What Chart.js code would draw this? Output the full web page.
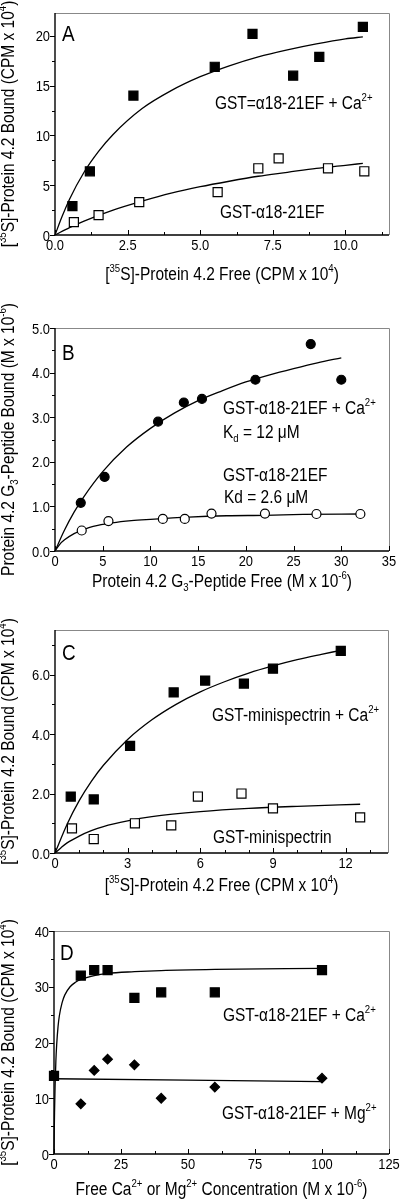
<!DOCTYPE html>
<html>
<head>
<meta charset="utf-8">
<script src="https://cdn.jsdelivr.net/npm/chart.js@4.4.1/dist/chart.umd.min.js"></script>
<style>
  html, body { margin: 0; padding: 0; background: #fff; }
  .panel { width: 400px; height: 300px; }
  canvas { display: block; }
</style>
</head>
<body>
<div class="panel"><canvas id="chartA" width="400" height="300"></canvas></div>
<div class="panel"><canvas id="chartB" width="400" height="300"></canvas></div>
<div class="panel"><canvas id="chartC" width="400" height="300"></canvas></div>
<div class="panel"><canvas id="chartD" width="400" height="300"></canvas></div>
<script>
// panel A - GST-a18-21EF binding of [35S]-protein 4.2
const aCaFree = [0.6, 1.2, 2.7, 5.5, 6.8, 8.2, 9.1, 10.6];
const aCaBound = [2.9, 6.4, 14.0, 16.9, 20.2, 16.0, 17.9, 20.9];
const aFree = [0.65, 1.5, 2.9, 5.6, 7.0, 7.7, 9.4, 10.65];
const aBound = [1.3, 2.0, 3.3, 4.3, 6.7, 7.7, 6.7, 6.4];
const aCaFitX = [0, 0.25, 0.5, 1, 1.5, 2, 3, 4, 5, 6, 7, 8, 9, 10, 10.6];
const aCaFitY = [0, 1.9, 3.6, 6.3, 8.4, 10.1, 12.7, 14.5, 15.9, 17.0, 17.9, 18.6, 19.2, 19.7, 19.9];
const aFitX = [0, 0.5, 1, 2, 3, 4, 5, 6, 7, 8, 9, 10, 10.6];
const aFitY = [0, 0.74, 1.4, 2.5, 3.4, 4.2, 4.85, 5.4, 5.9, 6.3, 6.7, 7.0, 7.2];
const aXTicks = [0, 2.5, 5, 7.5, 10];
const aYTicks = [0, 5, 10, 15, 20];

// panel B - G3 peptide
const bCaFree = [2.7, 5.2, 10.8, 13.5, 15.4, 21.0, 26.8, 30.0];
const bCaBound = [1.08, 1.66, 2.90, 3.33, 3.41, 3.84, 4.64, 3.84];
const bFree = [2.8, 5.6, 11.3, 13.6, 16.4, 22.0, 27.4, 32.0];
const bBound = [0.46, 0.67, 0.72, 0.72, 0.84, 0.84, 0.83, 0.83];
const bCaFitX = [0, 1, 2, 3, 5, 7.5, 10, 12.5, 15, 17.5, 20, 22.5, 25, 27.5, 30];
const bCaFitY = [0, 0.47, 0.87, 1.21, 1.78, 2.33, 2.75, 3.09, 3.37, 3.59, 3.79, 3.95, 4.09, 4.22, 4.33];
const bFitX = [0, 0.5, 1, 2, 3, 4, 6, 8, 10, 14, 18, 22, 26, 32];
const bFitY = [0, 0.15, 0.25, 0.39, 0.48, 0.55, 0.63, 0.68, 0.71, 0.76, 0.79, 0.80, 0.82, 0.83];
const bXTicks = [0, 5, 10, 15, 20, 25, 30, 35];
const bYTicks = [0, 1, 2, 3, 4, 5];

// panel C - minispectrin
const cCaFree = [0.65, 1.6, 3.1, 4.9, 6.2, 7.8, 9.0, 11.8];
const cCaBound = [1.9, 1.8, 3.6, 5.4, 5.8, 5.7, 6.2, 6.8];
const cFree = [0.7, 1.6, 3.3, 4.8, 5.9, 7.7, 9.0, 12.6];
const cBound = [0.83, 0.47, 1.0, 0.93, 1.9, 2.0, 1.5, 1.2];
const cCaFitX = [0, 0.5, 1, 1.5, 2, 3, 4, 5, 6, 7, 8, 9, 10, 11, 11.7];
const cCaFitY = [0, 0.97, 1.76, 2.41, 2.95, 3.82, 4.48, 5.0, 5.42, 5.76, 6.05, 6.29, 6.5, 6.68, 6.8];
const cFitX = [0, 0.25, 0.5, 1, 1.5, 2, 3, 4, 6, 8, 10, 12.6];
const cFitY = [0, 0.18, 0.34, 0.57, 0.75, 0.89, 1.08, 1.22, 1.39, 1.5, 1.57, 1.64];
const cXTicks = [0, 3, 6, 9, 12];
const cYTicks = [0, 2, 4, 6];

// panel D - Ca / Mg titration
const dCaConc = [0, 10, 15, 20, 30, 40, 60, 100];
const dCaBound = [14, 32, 33, 33, 28, 29, 29, 33];
const dMgConc = [10, 15, 20, 30, 40, 60, 100];
const dMgBound = [9, 15, 17, 16, 10, 12, 13.6];
const dCaFitX = [0, 0.1, 0.2, 0.4, 0.7, 1, 1.5, 2, 3, 4, 6, 8, 10, 15, 20, 30, 40, 60, 100];
const dCaFitY = [0, 4.2, 7.4, 12.1, 16.7, 19.6, 22.8, 24.8, 27.1, 28.5, 30.0, 30.8, 31.3, 32.0, 32.4, 32.7, 32.9, 33.1, 33.3];
const dMgFitX = [0, 100];
const dMgFitY = [13.5, 13.0];
const dXTicks = [0, 25, 50, 75, 100, 125];
const dYTicks = [0, 10, 20, 30, 40];

const FONT = '"Liberation Sans", Arial, sans-serif';
const SQUEEZE = 0.86; // the original uses a narrow face

function pts(xs, ys) {
    return xs.map((x, i) => ({ x: x, y: ys[i] }));
}

function markers(xs, ys, style, filled, radius) {
    return {
        data: pts(xs, ys),
        pointStyle: style,
        pointRadius: radius,
        pointBackgroundColor: filled ? '#000' : '#fff',
        pointBorderColor: '#000',
        pointBorderWidth: 1.2,
        showLine: false,
        clip: false
    };
}

function fitLine(xs, ys) {
    return {
        data: pts(xs, ys),
        showLine: true,
        borderColor: '#000',
        borderWidth: 1.3,
        pointRadius: 0,
        cubicInterpolationMode: 'monotone',
        clip: false
    };
}

// narrow text with superscripts / subscripts, y is the baseline
function drawRich(ctx, parts, x, y, size, align) {
    const small = size * 0.62;
    const widths = [];
    let total = 0;
    parts.forEach(([t, k]) => {
        ctx.font = (k ? small : size) + 'px ' + FONT;
        const w = ctx.measureText(t).width * SQUEEZE;
        widths.push(w);
        total += w;
    });
    let cx = x;
    if (align === 'center') cx = x - total / 2;
    if (align === 'right') cx = x - total;
    ctx.textAlign = 'left';
    ctx.textBaseline = 'alphabetic';
    parts.forEach(([t, k], i) => {
        ctx.font = (k ? small : size) + 'px ' + FONT;
        let dy = 0;
        if (k === 'sup') dy = -size * 0.42;
        if (k === 'sub') dy = size * 0.22;
        ctx.save();
        ctx.translate(cx, y + dy);
        ctx.scale(SQUEEZE, 1);
        ctx.fillText(t, 0, 0);
        ctx.restore();
        cx += widths[i];
    });
}

function isMajor(v, step) {
    const r = v / step;
    return Math.abs(r - Math.round(r)) < 1e-6;
}

const framePlugin = {
    id: 'frame',
    afterDraw(chart, args, opts) {
        const ctx = chart.ctx;
        const a = chart.chartArea;
        const xs = chart.scales.x;
        const ys = chart.scales.y;
        ctx.save();

        // box: black axes, grey top and right
        ctx.strokeStyle = '#888';
        ctx.lineWidth = 1;
        ctx.beginPath();
        ctx.moveTo(a.left, a.top + 0.5);
        ctx.lineTo(a.right + 0.5, a.top + 0.5);
        ctx.lineTo(a.right + 0.5, a.bottom);
        ctx.stroke();
        ctx.strokeStyle = '#000';
        ctx.lineWidth = 1.4;
        ctx.beginPath();
        ctx.moveTo(a.left, a.top);
        ctx.lineTo(a.left, a.bottom);
        ctx.lineTo(a.right, a.bottom);
        ctx.stroke();

        // x ticks point inward, y ticks point outward
        ctx.lineWidth = 1;
        const nx = Math.floor((xs.max - xs.min) / opts.xMinor + 1e-6);
        for (let i = 0; i <= nx; i++) {
            const v = xs.min + i * opts.xMinor;
            const px = Math.round(xs.getPixelForValue(v)) + 0.5;
            const len = isMajor(v, opts.xMajor) ? 5 : 3;
            ctx.beginPath();
            ctx.moveTo(px, a.bottom);
            ctx.lineTo(px, a.bottom - len);
            ctx.stroke();
        }
        const ny = Math.floor((ys.max - ys.min) / opts.yMinor + 1e-6);
        for (let i = 0; i <= ny; i++) {
            const v = ys.min + i * opts.yMinor;
            const py = Math.round(ys.getPixelForValue(v)) + 0.5;
            const len = isMajor(v, opts.yMajor) ? 5 : 3;
            ctx.beginPath();
            ctx.moveTo(a.left, py);
            ctx.lineTo(a.left - len, py);
            ctx.stroke();
        }

        ctx.fillStyle = '#000';
        // tick labels
        opts.xTicks.forEach(v => {
            drawRich(ctx, [[v.toFixed(opts.xDec), '']], xs.getPixelForValue(v), a.bottom + 15, 15, 'center');
        });
        opts.yTicks.forEach(v => {
            drawRich(ctx, [[v.toFixed(opts.yDec), '']], a.left - 5, ys.getPixelForValue(v) + 5.5, 15, 'right');
        });

        // axis titles
        drawRich(ctx, opts.xTitle, (a.left + a.right) / 2, opts.xTitleY, 18, 'center');
        ctx.save();
        ctx.translate(opts.yTitleX, (a.top + a.bottom) / 2);
        ctx.rotate(-Math.PI / 2);
        drawRich(ctx, opts.yTitle, 0, 6, 18, 'center');
        ctx.restore();

        // panel letter and series notes
        drawRich(ctx, [[opts.letter, '']], opts.letterX, opts.letterY, 22, 'left');
        opts.notes.forEach(n => drawRich(ctx, n.parts, n.x, n.y, 18, 'left'));
        ctx.restore();
    }
};

function makePanel(id, p) {
    new Chart(document.getElementById(id), {
        type: 'scatter',
        data: { datasets: p.datasets },
        options: {
            responsive: false,
            animation: false,
            events: [],
            layout: { padding: { left: 0, top: p.area.top, right: 400 - p.area.right, bottom: 0 } },
            plugins: {
                legend: { display: false },
                tooltip: { enabled: false },
                frame: p.frame
            },
            scales: {
                x: {
                    type: 'linear',
                    min: p.x.min, max: p.x.max,
                    grid: { display: false, drawTicks: false },
                    border: { display: false },
                    ticks: { display: false },
                    afterFit: s => { s.height = 300 - p.area.bottom; }
                },
                y: {
                    type: 'linear',
                    min: p.y.min, max: p.y.max,
                    grid: { display: false, drawTicks: false },
                    border: { display: false },
                    ticks: { display: false },
                    afterFit: s => { s.width = p.area.left; }
                }
            }
        },
        plugins: [framePlugin]
    });
}

const proteinBound = [['[', ''], ['35', 'sup'], ['S]-Protein 4.2 Bound (CPM x 10', ''], ['4', 'sup'], [')', '']];
const proteinFree = [['[', ''], ['35', 'sup'], ['S]-Protein 4.2 Free (CPM x 10', ''], ['4', 'sup'], [')', '']];

makePanel('chartA', {
    area: { left: 55, right: 389, top: 13, bottom: 235 },
    x: { min: 0, max: 11.5 },
    y: { min: 0, max: 22.3 },
    datasets: [
        markers(aCaFree, aCaBound, 'rect', true, 6.4),
        markers(aFree, aBound, 'rect', false, 6.4),
        fitLine(aCaFitX, aCaFitY),
        fitLine(aFitX, aFitY)
    ],
    frame: {
        xMajor: 2.5, xMinor: 1.25, yMajor: 5, yMinor: 2.5,
        xTicks: aXTicks, xDec: 1, yTicks: aYTicks, yDec: 0,
        xTitle: proteinFree, xTitleY: 280,
        yTitle: proteinBound, yTitleX: 8,
        letter: 'A', letterX: 62, letterY: 41,
        notes: [
            { parts: [['GST=\u03b118-21EF + Ca', ''], ['2+', 'sup']], x: 215, y: 109 },
            { parts: [['GST-\u03b118-21EF', '']], x: 220, y: 218 }
        ]
    }
});

makePanel('chartB', {
    area: { left: 55, right: 389, top: 28, bottom: 251 },
    x: { min: 0, max: 35 },
    y: { min: 0, max: 5 },
    datasets: [
        markers(bCaFree, bCaBound, 'circle', true, 4.5),
        markers(bFree, bBound, 'circle', false, 4.5),
        fitLine(bCaFitX, bCaFitY),
        fitLine(bFitX, bFitY)
    ],
    frame: {
        xMajor: 5, xMinor: 5, yMajor: 1, yMinor: 0.5,
        xTicks: bXTicks, xDec: 0, yTicks: bYTicks, yDec: 1,
        xTitle: [['Protein 4.2 G', ''], ['3', 'sub'], ['-Peptide Free (M x 10', ''], ['-6', 'sup'], [')', '']],
        xTitleY: 287,
        yTitle: [['Protein 4.2 G', ''], ['3', 'sub'], ['-Peptide Bound (M x 10', ''], ['-6', 'sup'], [')', '']],
        yTitleX: 8,
        letter: 'B', letterX: 62, letterY: 60,
        notes: [
            { parts: [['GST-\u03b118-21EF + Ca', ''], ['2+', 'sup']], x: 223, y: 114 },
            { parts: [['K', ''], ['d', 'sub'], [' = 12 \u03bcM', '']], x: 223, y: 138 },
            { parts: [['GST-\u03b118-21EF', '']], x: 223, y: 181 },
            { parts: [['Kd = 2.6 \u03bcM', '']], x: 224, y: 203 }
        ]
    }
});

makePanel('chartC', {
    area: { left: 55, right: 388, top: 30, bottom: 253 },
    x: { min: 0, max: 13.75 },
    y: { min: 0, max: 7.5 },
    datasets: [
        markers(cCaFree, cCaBound, 'rect', true, 6.4),
        markers(cFree, cBound, 'rect', false, 6.4),
        fitLine(cCaFitX, cCaFitY),
        fitLine(cFitX, cFitY)
    ],
    frame: {
        xMajor: 3, xMinor: 1, yMajor: 2, yMinor: 1,
        xTicks: cXTicks, xDec: 0, yTicks: cYTicks, yDec: 1,
        xTitle: proteinFree, xTitleY: 291,
        yTitle: proteinBound, yTitleX: 8,
        letter: 'C', letterX: 62, letterY: 60,
        notes: [
            { parts: [['GST-minispectrin + Ca', ''], ['2+', 'sup']], x: 212, y: 121 },
            { parts: [['GST-minispectrin', '']], x: 213, y: 243 }
        ]
    }
});

makePanel('chartD', {
    area: { left: 54, right: 389, top: 31, bottom: 254 },
    x: { min: 0, max: 125 },
    y: { min: 0, max: 40 },
    datasets: [
        markers(dCaConc, dCaBound, 'rect', true, 6.4),
        markers(dMgConc, dMgBound, 'rectRot', true, 4.8),
        fitLine(dCaFitX, dCaFitY),
        fitLine(dMgFitX, dMgFitY)
    ],
    frame: {
        xMajor: 25, xMinor: 12.5, yMajor: 10, yMinor: 5,
        xTicks: dXTicks, xDec: 0, yTicks: dYTicks, yDec: 0,
        xTitle: [['Free Ca', ''], ['2+', 'sup'], [' or Mg', ''], ['2+', 'sup'], [' Concentration (M x 10', ''], ['-6', 'sup'], [')', '']],
        xTitleY: 295,
        yTitle: proteinBound, yTitleX: 8,
        letter: 'D', letterX: 60, letterY: 60,
        notes: [
            { parts: [['GST-\u03b118-21EF + Ca', ''], ['2+', 'sup']], x: 223, y: 121 },
            { parts: [['GST-\u03b118-21EF + Mg', ''], ['2+', 'sup']], x: 222, y: 219 }
        ]
    }
});
</script>
</body>
</html>
